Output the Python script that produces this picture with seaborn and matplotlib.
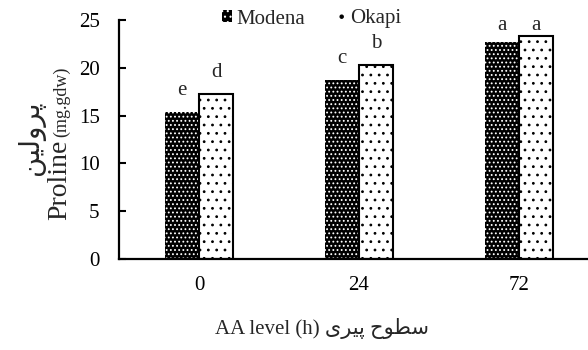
import matplotlib
matplotlib.use("Agg")
import matplotlib.pyplot as plt
from matplotlib.patches import Patch
import seaborn as sns
import pandas as pd

# ---- data ----
levels = ["0", "24", "72"]
cultivars = ["Modena", "Okapi"]
modena = [15.4, 18.7, 22.7]
okapi = [17.3, 20.3, 23.3]
letters_modena = ["e", "c", "a"]
letters_okapi = ["d", "b", "a"]
yticks = [0, 5, 10, 15, 20, 25]

# Persian text (presentation forms, visual order)
fa_proline = "\uFEE6\uFBFF\uFEDF\uFEED\uFEAE\uFB58"          # پرولین
fa_levels = "\uFBFC\uFEAE\uFBFF\uFB58 \uFEA1\uFEEE\uFEC4\uFEB3"  # سطوح پیری

sns.set_style("ticks")
plt.rcParams["font.family"] = ["Liberation Serif", "DejaVu Sans"]
plt.rcParams["hatch.linewidth"] = 0.8
FAM = ["Liberation Serif", "DejaVu Sans"]

df = pd.DataFrame({
    "level": levels * 2,
    "cultivar": [cultivars[0]] * 3 + [cultivars[1]] * 3,
    "value": modena + okapi,
})

W, H = 588, 350
fig = plt.figure(figsize=(W / 100, H / 100), dpi=100)
ax = fig.add_axes([119 / W, (H - 259) / H, (599 - 119) / W, (259 - 20) / H])

sns.barplot(data=df, x="level", y="value", hue="cultivar", order=levels,
            hue_order=cultivars, palette=["black", "white"], saturation=1,
            width=0.425, gap=0, errorbar=None, legend=False, ax=ax)

# style bars
for bar in ax.containers[0]:
    bar.set_facecolor("black")
    bar.set_edgecolor("white")
    bar.set_linewidth(0)
    bar.set_hatch("....")
for bar in ax.containers[1]:
    bar.set_facecolor("white")
    bar.set_edgecolor("black")
    bar.set_linewidth(1.5)
    bar.set_hatch("..")

# letters
for cont, letters, vals in [(ax.containers[0], letters_modena, modena),
                            (ax.containers[1], letters_okapi, okapi)]:
    for bar, lab, v in zip(cont, letters, vals):
        xc = bar.get_x() + bar.get_width() / 2
        ax.text(xc, min(v + 1.75, 23.95), lab, ha="center", va="baseline",
                fontsize=15, family=FAM)

ax.set_xlim(-0.5, 2.5)
ax.set_ylim(0, 25)
ax.set_yticks(yticks)
ax.set_yticklabels([str(t) for t in yticks])
for s in ["top", "right"]:
    ax.spines[s].set_visible(False)
for s in ["left", "bottom"]:
    ax.spines[s].set_linewidth(1.6)
    ax.spines[s].set_color("black")
ax.tick_params(axis="y", direction="in", length=5, width=1.5, pad=14,
               labelsize=15, colors="black")
ax.tick_params(axis="x", length=0, pad=12, labelsize=15, colors="black")
ax.set_ylabel("")
ax.set_xlabel("AA level (h) " + fa_levels, fontsize=15, family=FAM)
ax.xaxis.set_label_coords((322 - 119) / 480, -(318 - 259) / 239)

# y label (two lines, mixed sizes)
fig.text(66 / W, (H - 220) / H, "Proline", rotation=90, rotation_mode="anchor",
         ha="left", va="baseline", fontsize=20, family=FAM)
fig.text(66 / W, (H - 137) / H, "(mg.gdw)", rotation=90, rotation_mode="anchor",
         ha="left", va="baseline", fontsize=13, family=FAM)
fig.text(38 / W, (H - 138) / H, fa_proline, rotation=90, rotation_mode="anchor",
         ha="center", va="baseline", fontsize=20, family=FAM)

# legend
handles = [Patch(facecolor="black", edgecolor="white", hatch="...", linewidth=0),
           Patch(facecolor="white", edgecolor="black", hatch=".", linewidth=0)]
fig.legend(handles, cultivars, loc="center left",
           bbox_to_anchor=(222 / W, (H - 19) / H), ncol=2, frameon=False,
           borderpad=0, borderaxespad=0, handlelength=0.5, handleheight=0.5,
           handletextpad=0.2, columnspacing=1.45, prop={"size": 15})

fig.savefig("out.png", dpi=100)
